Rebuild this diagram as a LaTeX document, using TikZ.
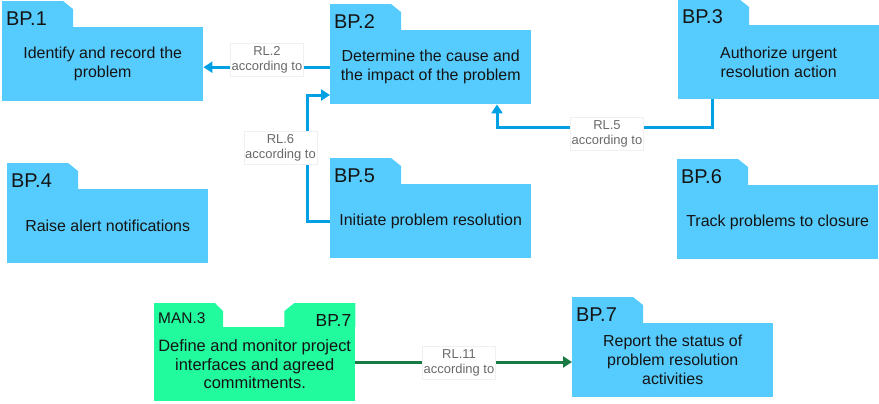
\documentclass[tikz,border=0pt]{standalone}
\usepackage{fontspec}
\setmainfont{Liberation Sans}
\usetikzlibrary{arrows.meta}

\definecolor{bpblue}{RGB}{86,203,254}
\definecolor{mangreen}{RGB}{34,250,158}
\definecolor{linkblue}{RGB}{0,160,228}
\definecolor{linkgreen}{RGB}{26,122,68}
\definecolor{inktext}{RGB}{20,20,20}
\definecolor{reltext}{RGB}{105,105,105}
\definecolor{relframe}{RGB}{240,240,240}

\newcommand\bodyfont{\fontsize{16}{19}\selectfont}
\newcommand\tagfont{\fontsize{20}{22}\selectfont}
\newcommand\relfont{\fontsize{13}{15}\selectfont}

\tikzset{
  bpbody/.style={fill=#1, anchor=north west, minimum width=201bp, minimum height=74bp,
    inner sep=2bp, align=center, text=inktext, font=\bodyfont},
  bpbody/.default=bpblue,
  tag/.style={anchor=base west, inner sep=0pt, text=inktext, font=\tagfont},
  rel/.style={fill=white, draw=relframe, line width=0.5bp, text=reltext, font=\relfont,
    align=center, inner xsep=1bp, inner ysep=3bp},
  bluelink/.style={draw=linkblue, line width=3bp, -{Triangle[length=9bp,width=11bp]}},
  greenlink/.style={draw=linkgreen, line width=3bp, -{Triangle[length=9bp,width=11bp]}}
}

% folder tab sitting on top of a process box, with its tag text
\newcommand\foldertab[3]{%
  \fill[bpblue] (#1.north west) -- ++(0,-26) -- ++(61,0) -- ++(10,8) -- ++(0,18) -- cycle;
  \node[tag] (#2) at ([shift={(4,-2)}]#1.north west) {#3};
}

\begin{document}
\begin{tikzpicture}[x=1bp, y=-1bp]
\useasboundingbox (0,0) rectangle (879,403);

% process boxes
\node[bpbody] (bp1) at (2,27)    {Identify and record the\\problem};
\node[bpbody] (bp2) at (330,30)  {Determine the cause and\\the impact of the problem};
\node[bpbody] (bp3) at (678,25)  {Authorize urgent\\resolution action};
\node[bpbody] (bp4) at (7,189)   {Raise alert notifications};
\node[bpbody] (bp5) at (330,184) {Initiate problem resolution};
\node[bpbody] (bp6) at (677,185) {Track problems to closure};
\node[bpbody] (bp7) at (572,323) {Report the status of\\problem resolution\\activities};
\node[bpbody=mangreen, font=\fontsize{16.5}{18.5}\selectfont] (man3) at (154,327)
  {Define and monitor project\\interfaces and agreed\\commitments.};

\foldertab{bp1}{bp1-tag}{BP.1}
\foldertab{bp2}{bp2-tag}{BP.2}
\foldertab{bp3}{bp3-tag}{BP.3}
\foldertab{bp4}{bp4-tag}{BP.4}
\foldertab{bp5}{bp5-tag}{BP.5}
\foldertab{bp6}{bp6-tag}{BP.6}
\foldertab{bp7}{bp7-tag}{BP.7}

% double tab of the external process
\fill[mangreen] (man3.north west) -- ++(0,-24) -- ++(61,0) -- ++(8,8) -- ++(0,16) -- cycle;
\fill[mangreen] (man3.north east) -- ++(0,-24) -- ++(-61,0) -- ++(-10,8) -- ++(0,16) -- cycle;
\node[tag, font=\fontsize{15.5}{18}\selectfont] (man3-proc) at ([shift={(4,-4)}]man3.north west) {MAN.3};
\node[tag, anchor=base east, font=\fontsize{17.5}{20}\selectfont] (man3-bp) at ([shift={(-4,-1)}]man3.north east) {BP.7};

% RL.2
\draw[bluelink] (bp2.west) -- (bp2.west -| bp1.east);
\node[rel] (rl2) at (267,60) {RL.2\\according to};

% RL.6
\coordinate (k6) at (307,95);
\draw[bluelink] (bp5.west) -- (bp5.west -| k6) -- (k6) -- (k6 -| bp2.west);
\node[rel] (rl6) at (280.5,148) {RL.6\\according to};

% RL.5
\coordinate (k5) at (712,127);
\coordinate (j5) at (497,127);
\draw[bluelink] (bp3.south -| k5) -- (k5) -- (j5) -- (j5 |- bp2.south);
\node[rel] (rl5) at (607,134) {RL.5\\according to};

% RL.11
\coordinate (k11) at (0,362);
\draw[greenlink] (man3.east |- k11) -- (bp7.west |- k11);
\node[rel] (rl11) at (459,362.5) {RL.11\\according to};
\end{tikzpicture}
\end{document}
